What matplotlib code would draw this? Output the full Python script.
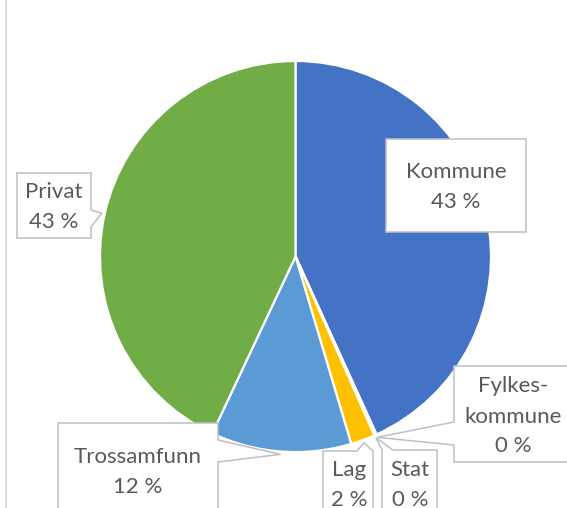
import matplotlib
matplotlib.use('Agg')
import matplotlib.pyplot as plt
from matplotlib.patches import Polygon
import numpy as np

categories = ['Kommune', 'Fylkes-\nkommune', 'Stat', 'Lag', 'Trossamfunn', 'Privat']
values = [43.2, 0.1, 0.1, 2.0, 11.6, 43.0]
colors = ['#4472C4', '#ED7D31', '#A5A5A5', '#FFC000', '#5B9BD5', '#70AD47']

W, H = 567, 508
fig = plt.figure(figsize=(W / 100, H / 100), dpi=100)
ax = fig.add_axes([0, 0, 1, 1])

cx, cy, R = 295.5, H - 256.5, 195.5
wedges, _ = ax.pie(values, colors=colors, startangle=90, counterclock=False,
                   center=(cx, cy), radius=R, frame=True,
                   wedgeprops=dict(edgecolor='white', linewidth=1.6))
ax.set_xlim(0, W)
ax.set_ylim(0, H)
ax.set_aspect('equal')
ax.axis('off')

# chart-area left border
ax.plot([6, 6], [0, H], color='#D9D9D9', lw=1.3, solid_capstyle='butt')

# label layout (pixel coords, y downward): box, pointer side, pointer base, text centre x, line ys
layout = {
    'Kommune': dict(box=(386, 139, 526, 232), side=None, base=None, tx=456, ty=[172, 202]),
    'Fylkes-\nkommune': dict(box=(454, 366, 600, 462), side='left', base=(422, 445), tx=513, ty=[386, 417, 446]),
    'Stat': dict(box=(382, 450, 437, 540), side='top', base=(382, 393), tx=410, ty=[470, 500]),
    'Lag': dict(box=(323, 451, 373, 540), side='top', base=(357, 373), tx=349, ty=[470, 500]),
    'Trossamfunn': dict(box=(58, 423, 218, 540), side='right', base=(440, 462), tx=138, ty=[457, 487]),
    'Privat': dict(box=(17, 173, 91, 238), side='right', base=(210, 227), tx=54, ty=[192, 222]),
}

def Y(y):
    return H - y

for cat, val, w in zip(categories, values, wedges):
    L = layout[cat]
    x0, y0, x1, y1 = L['box']
    mid = np.deg2rad((w.theta1 + w.theta2) / 2)
    apx = cx + 1.015 * R * np.cos(mid)
    apy = cy + 1.015 * R * np.sin(mid)
    side, base = L['side'], L['base']
    if side is None:
        pts = [(x0, Y(y0)), (x1, Y(y0)), (x1, Y(y1)), (x0, Y(y1))]
    elif side == 'top':
        pts = [(x0, Y(y0)), (base[0], Y(y0)), (apx, apy), (base[1], Y(y0)),
               (x1, Y(y0)), (x1, Y(y1)), (x0, Y(y1))]
    elif side == 'right':
        pts = [(x0, Y(y0)), (x1, Y(y0)), (x1, Y(base[0])), (apx, apy),
               (x1, Y(base[1])), (x1, Y(y1)), (x0, Y(y1))]
    else:  # left
        pts = [(x0, Y(y0)), (x1, Y(y0)), (x1, Y(y1)), (x0, Y(y1)),
               (x0, Y(base[1])), (apx, apy), (x0, Y(base[0]))]
    ax.add_patch(Polygon(pts, closed=True, facecolor='white', edgecolor='#BFBFBF',
                         lw=1.1, zorder=5, joinstyle='miter'))
    lines = cat.split('\n') + [f'{val:.0f} %']
    for txt, ty in zip(lines, L['ty']):
        ax.text(L['tx'], Y(ty), txt, ha='center', va='center', fontsize=16,
                family='Lato', color='#595959', zorder=6)

fig.savefig('out.png', dpi=100)
